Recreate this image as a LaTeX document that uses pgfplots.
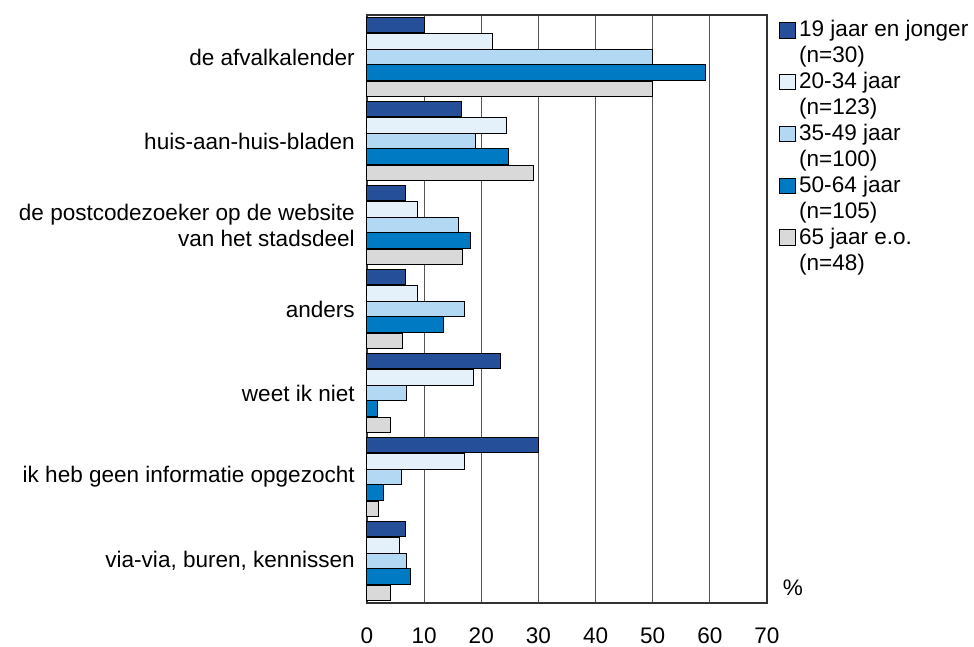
\documentclass[border=0pt]{standalone}
\usepackage{fontspec}
\setmainfont{Liberation Sans}
\usepackage{pgfplots}
\pgfplotsset{compat=1.18}
\definecolor{ageA}{RGB}{38,79,154}
\definecolor{ageB}{RGB}{228,241,251}
\definecolor{ageC}{RGB}{178,216,244}
\definecolor{ageD}{RGB}{0,122,194}
\definecolor{ageE}{RGB}{217,217,217}
\definecolor{gridgray}{RGB}{85,85,85}

\begin{document}
\fontsize{16.9}{19.5}\selectfont
\begin{tikzpicture}
\begin{axis}[
  name=ax,
  scale only axis, width=300pt, height=441pt,
  xbar, bar width=0.19, clip=false,
  xmin=0, xmax=70, ymin=-0.5, ymax=6.5, y dir=reverse,
  xtick={0,10,...,70},
  ytick={0,...,6},
  yticklabels={de afvalkalender, huis-aan-huis-bladen,
    de postcodezoeker op de website\\van het stadsdeel,
    anders, weet ik niet, ik heb geen informatie opgezocht,
    {via-via, buren, kennissen}},
  yticklabel style={align=right, xshift=-3.4pt},
  xticklabel style={yshift=-12.4pt},
  major tick length=0pt,
  xmajorgrids, grid style={gridgray, line width=0.75pt},
  axis line style={black!80, line width=0.8pt},
  /pgf/number format/assume math mode=true,
  legend image code/.code={\draw[#1] (0pt,4pt) rectangle (11.7pt,15.7pt);},
  legend style={at={(1,1)}, anchor=north west, xshift=9pt, yshift=-4pt,
    draw=none, fill=none, inner sep=0pt, row sep=4.6pt, column sep=2.5pt,
    nodes={inner sep=0pt, align=left}},
  legend cell align=left,
]
\addplot[draw=black, line width=0.75pt, fill=ageA, bar shift=-0.381] coordinates {
  (10.0,0) (16.6,1) (6.7,2) (6.7,3) (23.4,4) (30.0,5) (6.7,6)};
\addlegendentry{19 jaar en jonger\\(n=30)}
\addplot[draw=black, line width=0.75pt, fill=ageB, bar shift=-0.19] coordinates {
  (22.0,0) (24.4,1) (8.9,2) (8.9,3) (18.7,4) (17.1,5) (5.7,6)};
\addlegendentry{20-34 jaar\\(n=123)}
\addplot[draw=black, line width=0.75pt, fill=ageC, bar shift=0] coordinates {
  (50.0,0) (19.0,1) (16.0,2) (17.0,3) (7.0,4) (6.1,5) (7.0,6)};
\addlegendentry{35-49 jaar\\(n=100)}
\addplot[draw=black, line width=0.75pt, fill=ageD, bar shift=0.19] coordinates {
  (59.2,0) (24.8,1) (18.1,2) (13.4,3) (1.9,4) (2.9,5) (7.7,6)};
\addlegendentry{50-64 jaar\\(n=105)}
\addplot[draw=black, line width=0.75pt, fill=ageE, bar shift=0.381] coordinates {
  (50.0,0) (29.2,1) (16.7,2) (6.25,3) (4.2,4) (2.0,5) (4.2,6)};
\addlegendentry{65 jaar e.o.\\(n=48)}
\node at (rel axis cs:1,0) [xshift=19.5pt, yshift=11.25pt] {\%};
\end{axis}
\pgfresetboundingbox
\path[use as bounding box] ([shift={(-275.25pt,-32.25pt)}]ax.south west) rectangle ++(730.5pt,484.5pt);
\end{tikzpicture}
\end{document}
